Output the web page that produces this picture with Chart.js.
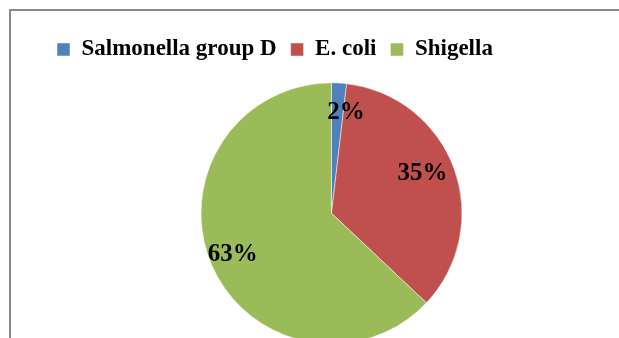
<!DOCTYPE html>
<html>
<head>
<meta charset="utf-8">
<script src="https://cdn.jsdelivr.net/npm/chart.js@4.4.1/dist/chart.umd.min.js"></script>
<style>
  html, body { margin: 0; padding: 0; background: #fff; overflow: hidden; width: 619px; height: 338px; }
  #frame { position: absolute; left: 9px; top: 9px; width: 700px; height: 400px; border: 2px solid #8a8a8a; box-sizing: border-box; }
  #wrap { position: absolute; left: 0; top: 0; width: 620px; height: 360px; }
</style>
</head>
<body>
<div id="frame"></div>
<div id="wrap"><canvas id="c" width="620" height="360"></canvas></div>
<script>
const categories = ["Salmonella group D", "E. coli", "Shigella"];
const counts = [1, 19, 34];
const percentLabels = ["2%", "35%", "63%"];
const colors = ["#4F81BD", "#C0504D", "#9BBB59"];

// label placement: fraction of radius and angle nudge (degrees) per slice
const labelPlacement = [
  { f: 0.78, da: 4.8 },
  { f: 0.76, da: -3.6 },
  { f: 0.82, da: 0.8 }
];

const pctLabelPlugin = {
  id: 'pctLabels',
  afterDatasetsDraw(chart) {
    const ctx = chart.ctx;
    const meta = chart.getDatasetMeta(0);
    ctx.save();
    ctx.font = 'bold 25px "Liberation Serif", "Times New Roman", serif';
    ctx.fillStyle = '#000';
    ctx.textAlign = 'center';
    ctx.textBaseline = 'middle';
    meta.data.forEach((arc, i) => {
      const p = arc.getProps(['x', 'y', 'startAngle', 'endAngle', 'outerRadius'], true);
      const mid = (p.startAngle + p.endAngle) / 2 + labelPlacement[i].da * Math.PI / 180;
      const r = p.outerRadius * labelPlacement[i].f;
      ctx.fillText(percentLabels[i], p.x + Math.cos(mid) * r, p.y + Math.sin(mid) * r);
    });
    ctx.restore();
  }
};

new Chart(document.getElementById('c'), {
  type: 'pie',
  data: {
    labels: categories,
    datasets: [{
      data: counts,
      backgroundColor: colors,
      borderColor: '#ffffff',
      borderWidth: 0.5,
      radius: 130.5
    }]
  },
  options: {
    responsive: false,
    animation: false,
    layout: { padding: { left: 43, right: 0, top: 24, bottom: 4.4 } },
    plugins: {
      tooltip: { enabled: false },
      legend: {
        position: 'top',
        align: 'start',
        labels: {
          boxWidth: 13,
          boxHeight: 13,
          padding: 14,
          color: '#000',
          font: { family: '"Liberation Serif", "Times New Roman", serif', size: 23, weight: 'bold' }
        }
      }
    }
  },
  plugins: [pctLabelPlugin]
});
</script>
</body>
</html>
